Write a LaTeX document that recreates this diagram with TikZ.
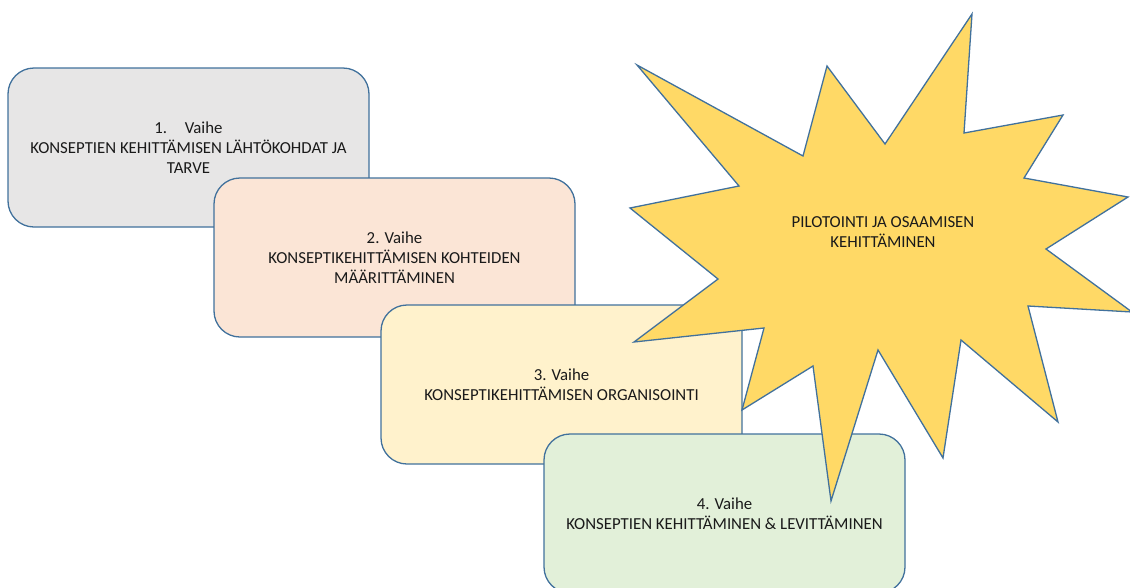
\documentclass[tikz,border=0pt]{standalone}
\usepackage{fontspec}
\setmainfont{Carlito}
\definecolor{edge}{HTML}{41719C}
\definecolor{ink}{HTML}{1A1A1A}
\definecolor{fillA}{HTML}{E7E6E6}
\definecolor{fillB}{HTML}{FBE5D6}
\definecolor{fillC}{HTML}{FFF2CC}
\definecolor{fillD}{HTML}{E2F0D9}
\definecolor{fillS}{HTML}{FFD966}
\begin{document}
\begin{tikzpicture}[x=1pt,y=-1pt,
  phasebox/.style={draw=edge, line width=1.3pt, rounded corners=26pt,
    minimum width=361pt, minimum height=159pt, inner sep=0pt,
    align=center, text=ink, font=\fontsize{16.8}{20}\selectfont},
  burst/.style={draw=edge, line width=1.3pt, fill=fillS, line join=miter},
  label/.style={align=center, text=ink, font=\fontsize{16.8}{20}\selectfont}]
\useasboundingbox (0,0) rectangle (1130,587);
\begin{scope}
\clip (0,0) rectangle (1130,587);
% the four phases, each overlapping the previous one
\node[phasebox, fill=fillA] (p1) at (188.5,147.5)
  {1.\hspace{1.05em}Vaihe\\KONSEPTIEN KEHITTÄMISEN LÄHTÖKOHDAT JA\\TARVE};
\node[phasebox, fill=fillB] (p2) at (394.5,257.5)
  {2. Vaihe\\KONSEPTIKEHITTÄMISEN KOHTEIDEN\\MÄÄRITTÄMINEN};
\node[phasebox, fill=fillC] (p3) at (561.5,384.5)
  {3. Vaihe\\KONSEPTIKEHITTÄMISEN ORGANISOINTI};
\node[phasebox, fill=fillD] (p4) at (724.5,513.5)
  {4. Vaihe\\KONSEPTIEN KEHITTÄMINEN \& LEVITTÄMINEN};
% the burst on top of everything
\draw[burst] (637,65) -- (803,156) -- (827,66) -- (885,144) -- (972,14)
  -- (964,133) -- (1063,115) -- (1024,178) -- (1128,197) -- (1046,249)
  -- (1132,312) -- (1028,306) -- (1058,422) -- (961,340) -- (943,458)
  -- (878,350) -- (831,501) -- (813,366) -- (742,410) -- (764,328)
  -- (634,342) -- (718,279) -- (630,208) -- (739,186) -- cycle;
\node[label] (s) at (883,232) {PILOTOINTI JA OSAAMISEN\\KEHITTÄMINEN};
\end{scope}
\end{tikzpicture}
\end{document}
